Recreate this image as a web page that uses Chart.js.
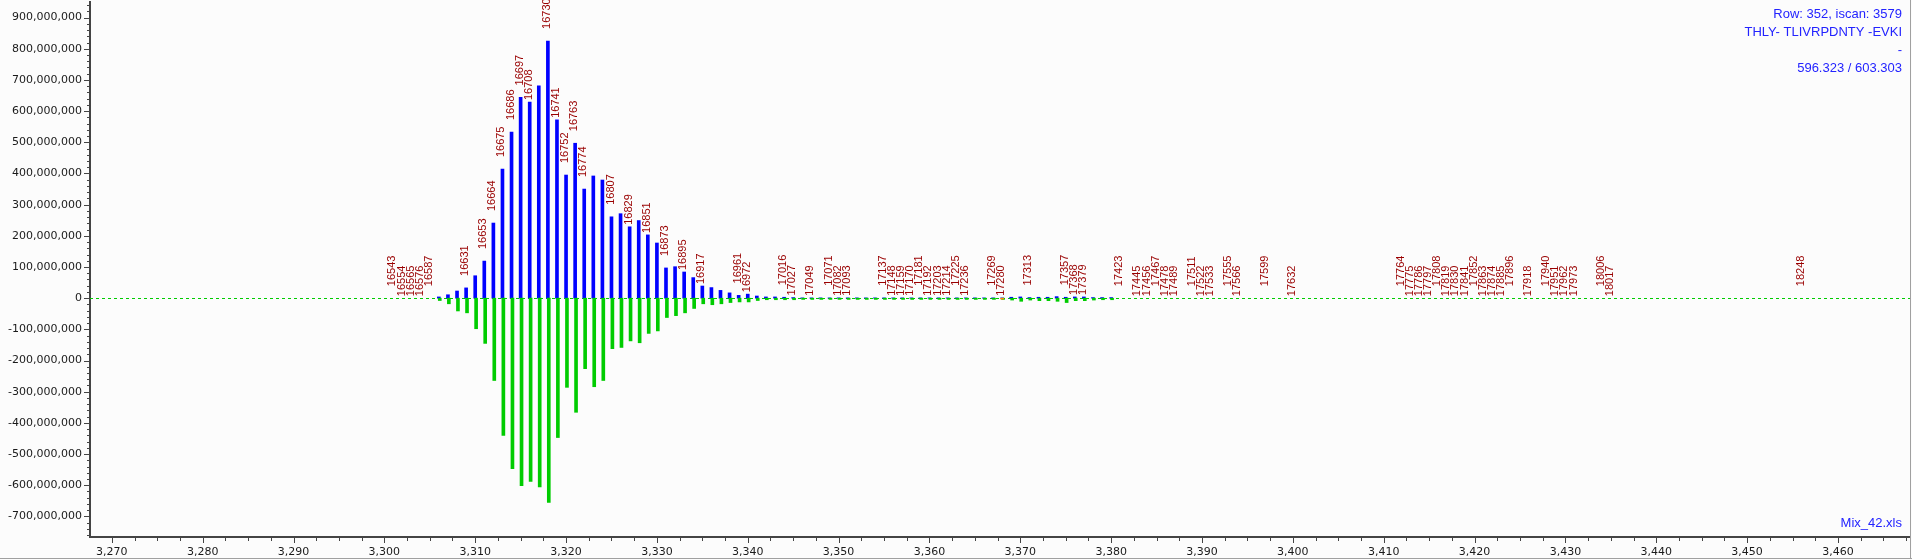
<!DOCTYPE html>
<html><head><meta charset="utf-8">
<script src="https://cdn.jsdelivr.net/npm/chart.js@4.4.1/dist/chart.umd.min.js"></script>
<style>
html,body{margin:0;padding:0;background:#fcfcfc;}
#wrap{position:relative;width:1912px;height:560px;overflow:hidden;}
</style></head><body>
<div id="wrap"><canvas id="c"></canvas></div>
<script>
// ---------------- data ----------------
const mzValues = [3306,3307,3308,3309,3310,3311,3312,3313,3314,3315,3316,3317,3318,3319,3320,3321,3322,3323,3324,3325,
  3326,3327,3328,3329,3330,3331,3332,3333,3334,3335,3336,3337,3338,3339,3340,3341,3342,3343,3344,3345,
  3346,3347,3348,3349,3350,3351,3352,3353,3354,3355,3356,3357,3358,3359,3360,3361,3362,3363,3364,3365,
  3366,3367,3368,3369,3370,3371,3372,3373,3374,3375,3376,3377,3378,3379,3380];
// observed intensities (millions)
const observed = [4,11,23,33,72,119,241,414,533,644,629,681,825,572,395,497,350,392,379,261,
  271,229,249,203,177,97,101,84,66,39,34,25,17,9,13,7,4,4,3,2,
  1,1,1,1,1,1,1,1,1,1,1,1,1,1,1,1,1,1,1,1,
  1,1,1,3,4,2,3,3,5,3,4,4,2,2,2];
// reference intensities (millions, drawn downward)
const reference = [-7.5,-18,-41,-47,-98,-145,-264,-440,-547,-601,-588,-605,-655,-447,-286,-366,-226,-284,-264,-162,
  -158,-137,-143,-113,-105,-62,-56,-47,-33,-18,-21,-18,-14,-12,-12,-7.5,-5,-5,-5,-5,
  -4,-4,-4,-4,-4,-4,-4,-4,-4,-4,-4,-4,-4,-4,-4,-4,-4,-4,-4,-4,
  -4,-4,-4,-6,-10,-6,-8,-8,-10,-14,-8,-8,-6,-5,-5];
const markerMz = [3368];
const markerVal = [-3];
const peakLabelMz = [3301,3302,3303,3304,3305,3309,3311,3312,3313,3314,3315,3316,3318,3319,3320,3321,3322,3325,3327,3329,
  3331,3333,3335,3339,3340,3344,3345,3347,3349,3350,3351,3355,3356,3357,3358,3359,3360,3361,3362,3363,
  3364,3367,3368,3371,3375,3376,3377,3381,3383,3384,3385,3386,3387,3389,3390,3391,3393,3394,3397,3400,
  3412,3413,3414,3415,3416,3417,3418,3419,3420,3421,3422,3423,3424,3426,3428,3429,3430,3431,3434,3435,3456];
const peakLabels = ['16543','16554','16565','16576','16587','16631','16653','16664','16675','16686','16697','16708','16730','16741','16752','16763','16774','16807','16829','16851',
  '16873','16895','16917','16961','16972','17016','17027','17049','17071','17082','17093','17137','17148','17159','17170','17181','17192','17203','17214','17225',
  '17236','17269','17280','17313','17357','17368','17379','17423','17445','17456','17467','17478','17489','17511','17522','17533','17555','17566','17599','17632',
  '17764','17775','17786','17797','17808','17819','17830','17841','17852','17863','17874','17885','17896','17918','17940','17951','17962','17973','18006','18017','18248'];
const xTicks = [3270,3280,3290,3300,3310,3320,3330,3340,3350,3360,3370,3380,3390,3400,3410,3420,3430,3440,3450,3460];
const yTicks = [-700e6,-600e6,-500e6,-400e6,-300e6,-200e6,-100e6,0,100e6,200e6,300e6,400e6,500e6,600e6,700e6,800e6,900e6];
const infoLines = ['Row: 352, iscan: 3579','THLY- TLIVRPDNTY -EVKI','-','596.323 / 603.303'];
const fileLabel = 'Mix_42.xls';
// --------------------------------------

const M = 1e6;
const AXIS_FONT = {family: 'DejaVu Sans', size: 11};
const LABEL_COLOR = '#990000';
const INFO_COLOR = '#2323ff';

const overlay = {
  id: 'overlay',
  beforeDatasetsDraw(chart) {
    const {ctx, chartArea: a, scales: {y}} = chart;
    const y0 = Math.round(y.getPixelForValue(0)) + 0.5;
    ctx.save();
    ctx.lineWidth = 1;
    ctx.setLineDash([3, 3]);
    ctx.strokeStyle = '#00cc00';
    ctx.beginPath(); ctx.moveTo(a.left, y0); ctx.lineTo(a.right, y0); ctx.stroke();
    ctx.restore();
  },
  afterDraw(chart) {
    const {ctx, chartArea: a, scales: {x, y}} = chart;
    ctx.save();
    // tick marks
    ctx.strokeStyle = '#444';
    ctx.lineWidth = 1;
    ctx.beginPath();
    const yMajor = yTicks[1] - yTicks[0];
    const yStepMinor = yMajor / 5;
    for (let v = yTicks[0] - 3 * yStepMinor; v <= y.max; v += yStepMinor) {
      if (v < y.min) continue;
      const p = Math.round(y.getPixelForValue(v)) + 0.5;
      const major = Math.abs(Math.round(v / yMajor) * yMajor - v) < 1;
      ctx.moveTo(a.left - (major ? 6 : 3), p); ctx.lineTo(a.left, p);
    }
    const xMajor = xTicks[1] - xTicks[0];
    const xStepMinor = xMajor / 4;
    for (let v = xTicks[0] - xStepMinor; v <= x.max; v += xStepMinor) {
      if (v < x.min) continue;
      const p = Math.round(x.getPixelForValue(v)) + 0.5;
      const major = Math.abs(v - Math.round(v / xMajor) * xMajor) < 1e-6;
      ctx.moveTo(p, a.bottom); ctx.lineTo(p, a.bottom + (major ? 6 : 4));
    }
    ctx.stroke();

    // peak labels
    ctx.font = '11px "Liberation Sans", Arial, sans-serif';
    ctx.fillStyle = LABEL_COLOR;
    ctx.textAlign = 'left';
    ctx.textBaseline = 'middle';
    const placed = [];
    peakLabels.forEach((txt, i) => {
      const mz = peakLabelMz[i];
      const idx = mzValues.indexOf(mz);
      const v = idx >= 0 ? Math.max(observed[idx], 0) * M : 0;
      const px = x.getPixelForValue(mz) - 1;
      const top = y.getPixelForValue(v);
      let bottom = top - 12;
      const hit = placed.some(p => Math.abs(p.x - px) < 30 && Math.abs(p.b - bottom) < 10);
      if (hit) bottom = top - 2;
      placed.push({x: px, b: bottom});
      ctx.save();
      ctx.translate(px, bottom);
      ctx.rotate(-Math.PI / 2);
      ctx.fillText(txt, 0, 0);
      ctx.restore();
    });

    // info text
    ctx.font = '13px "Liberation Sans", Arial, sans-serif';
    ctx.fillStyle = INFO_COLOR;
    ctx.textAlign = 'right';
    const lineYs = [14, 32, 50, 68];
    infoLines.forEach((t, i) => ctx.fillText(t, 1902, lineYs[i]));
    ctx.fillText(fileLabel, 1902, 523);

    // frame lines
    ctx.strokeStyle = '#a0a0a0';
    ctx.beginPath();
    ctx.moveTo(0, 558.5); ctx.lineTo(1912, 558.5);
    ctx.moveTo(1910.5, 0); ctx.lineTo(1910.5, 558);
    ctx.stroke();
    ctx.restore();
  }
};

new Chart(document.getElementById('c'), {
  type: 'bar',
  data: {
    datasets: [
      {label: 'observed', data: mzValues.map((m, i) => ({x: m, y: observed[i] * M})),
        backgroundColor: '#0000ff', barThickness: 3, grouped: false, order: 2},
      {label: 'reference', data: mzValues.map((m, i) => ({x: m + 0.1, y: reference[i] * M})),
        backgroundColor: '#00cc00', barThickness: 3, grouped: false, order: 1},
      {label: 'marker', data: markerMz.map((m, i) => ({x: m, y: markerVal[i] * M})),
        backgroundColor: '#ff8c00', barThickness: 3, grouped: false, order: 0}
    ]
  },
  options: {
    responsive: true,
    maintainAspectRatio: false,
    animation: false,
    layout: {padding: {top: 2, right: 2, left: 0, bottom: 0}},
    plugins: {legend: {display: false}, tooltip: {enabled: false}},
    scales: {
      x: {
        type: 'linear', min: 3267.6, max: 3467.93, offset: false,
        afterBuildTicks: s => { s.ticks = xTicks.map(v => ({value: v})); },
        ticks: {callback: v => v.toLocaleString('en-US'), font: AXIS_FONT, color: '#1a1a1a',
          maxRotation: 0, autoSkip: false, padding: 9},
        grid: {display: false, drawTicks: false},
        border: {display: true, color: '#444', width: 2},
        afterFit: s => { s.height = 23; s.paddingLeft = 0; s.paddingRight = 0; }
      },
      y: {
        min: -766e6, max: 950e6,
        afterBuildTicks: s => { s.ticks = yTicks.map(v => ({value: v})); },
        ticks: {callback: v => v.toLocaleString('en-US'), font: AXIS_FONT, color: '#1a1a1a', padding: 8},
        grid: {display: false, drawTicks: false},
        border: {display: true, color: '#444', width: 2},
        afterFit: s => { s.width = 90; s.paddingTop = 0; s.paddingBottom = 0; }
      }
    }
  },
  plugins: [overlay]
});
</script>
</body></html>
